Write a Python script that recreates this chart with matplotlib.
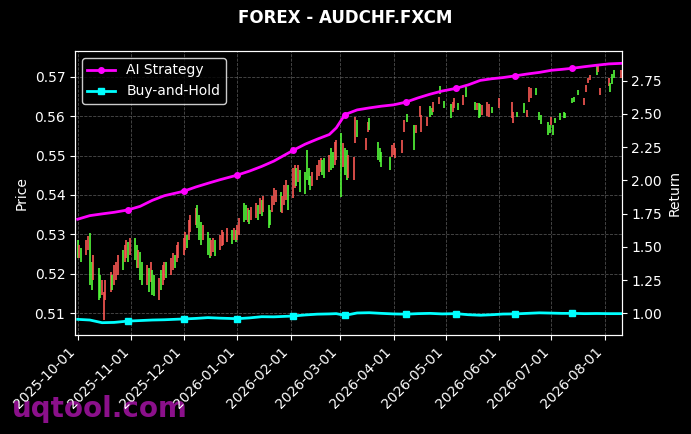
import numpy as np
import pandas as pd
import matplotlib
matplotlib.use("Agg")
import matplotlib.pyplot as plt
import matplotlib.dates as mdates

nan = np.nan

# trading days (Mon-Fri) shown on the chart
start_day = "2025-10-01"
end_day = "2026-08-10"

# daily candle open / close, nan = no candle drawn
opens = [
    # Oct
    0.5286, 0.5240, 0.5265, 0.5247, 0.5260, 0.5303, 0.5230, 0.5184, 0.5214, 0.5197, 0.5146, 0.5082,
    0.5133, 0.5153, 0.5197, 0.5171, 0.5184, 0.5197, 0.5260, 0.5230, 0.5240, 0.5281, 0.5247,
    # Nov
    0.5291, 0.5273, 0.5214, 0.5255, 0.5230, 0.5171, 0.5214, 0.5179, 0.5209, 0.5197, 0.5133, 0.5209,
    0.5171, 0.5184, 0.5230, 0.5197, 0.5209, 0.5247, 0.5230, 0.5240,
    # Dec
    0.5247, 0.5260, 0.5298, 0.5286, 0.5306, 0.5324, 0.5375, 0.5349, 0.5331, 0.5286, 0.5306, 0.5291,
    0.5245, 0.5255, 0.5286, 0.5260, 0.5270, 0.5273, nan, 0.5281, 0.5311, 0.5286, 0.5311,
    # Jan
    0.5286, 0.5298, 0.5380, 0.5375, 0.5331, 0.5362, 0.5336, 0.5342, 0.5375, 0.5352, 0.5387, 0.5357,
    0.5375, 0.5362, 0.5357, 0.5375, 0.5382, 0.5408, 0.5354, 0.5375, 0.5387, 0.5425,
    # Feb
    0.5392, 0.5418, 0.5469, 0.5433, 0.5464, 0.5459, 0.5514, 0.5469, 0.5448, 0.5423, 0.5438, 0.5448,
    0.5459, 0.5489, 0.5494, 0.5459, 0.5520, 0.5509, 0.5476, 0.5489,
    # Mar
    0.5558, 0.5471, 0.5520, 0.5514, 0.5443, 0.5438, 0.5532, 0.5591, nan, nan, 0.5514, 0.5560,
    0.5596, nan, nan, 0.5535, 0.5520, 0.5509, nan, nan, 0.5497, 0.5497,
    # Apr
    0.5502, 0.5494, nan, 0.5507, 0.5560, nan, 0.5606, nan, 0.5578, 0.5558, nan, 0.5598,
    0.5560, 0.5575, nan, 0.5626, 0.5621, 0.5611, 0.5631, 0.5677, nan, 0.5639,
    # May
    nan, 0.5631, 0.5611, 0.5621, nan, 0.5634, 0.5629, nan, 0.5675, nan, nan, 0.5636,
    0.5616, 0.5634, 0.5631, 0.5603, 0.5601, 0.5598, nan, 0.5624, nan,
    # Jun
    0.5621, nan, nan, nan, nan, 0.5596, 0.5583, nan, 0.5611, nan, 0.5634, nan,
    0.5598, 0.5636, 0.5647, 0.5672, nan, 0.5611, 0.5603, nan, 0.5586, 0.5578,
    # Jul
    0.5578, 0.5578, 0.5596, 0.5609, nan, 0.5611, 0.5609, nan, 0.5647, 0.5649, nan, 0.5667,
    nan, 0.5629, 0.5662, 0.5685, 0.5692, nan, 0.5728, 0.5713, 0.5654, nan, nan,
    # Aug
    0.5677, 0.5685, 0.5708, 0.5718, nan, 0.5698,
]
closes = [
    # Oct
    0.5240, 0.5273, 0.5230, 0.5286, 0.5296, 0.5171, 0.5158, 0.5247, 0.5133, 0.5138, 0.5184, 0.5153,
    0.5184, 0.5204, 0.5158, 0.5222, 0.5230, 0.5247, 0.5209, 0.5273, 0.5286, 0.5230, 0.5291,
    # Nov
    0.5235, 0.5214, 0.5260, 0.5184, 0.5171, 0.5222, 0.5153, 0.5230, 0.5146, 0.5143, 0.5189, 0.5158,
    0.5222, 0.5230, 0.5189, 0.5240, 0.5253, 0.5214, 0.5273, 0.5281,
    # Dec
    0.5291, 0.5306, 0.5265, 0.5336, 0.5349, 0.5367, 0.5316, 0.5286, 0.5273, 0.5324, 0.5247, 0.5240,
    0.5286, 0.5291, 0.5245, 0.5298, 0.5311, 0.5306, nan, 0.5316, 0.5275, 0.5316, 0.5281,
    # Jan
    0.5324, 0.5342, 0.5331, 0.5336, 0.5367, 0.5326, 0.5370, 0.5380, 0.5336, 0.5392, 0.5347, 0.5397,
    0.5316, 0.5324, 0.5397, 0.5418, 0.5413, 0.5357, 0.5397, 0.5425, 0.5438, 0.5362,
    # Feb
    0.5469, 0.5476, 0.5423, 0.5476, 0.5408, 0.5403, 0.5438, 0.5425, 0.5413, 0.5459, 0.5476, 0.5489,
    0.5494, 0.5451, 0.5443, 0.5502, 0.5464, 0.5469, 0.5535, 0.5540,
    # Mar
    0.5395, 0.5532, 0.5451, 0.5438, 0.5502, 0.5497, 0.5598, 0.5548, nan, nan, 0.5545, 0.5586,
    0.5565, nan, nan, 0.5489, 0.5484, 0.5471, nan, nan, 0.5464, 0.5527,
    # Apr
    0.5532, 0.5520, nan, 0.5540, 0.5591, nan, 0.5586, nan, 0.5514, 0.5578, nan, 0.5626,
    0.5603, 0.5598, nan, 0.5598, 0.5603, 0.5636, 0.5649, 0.5657, nan, 0.5621,
    # May
    nan, 0.5596, 0.5636, 0.5647, nan, 0.5616, 0.5654, nan, 0.5649, nan, nan, 0.5616,
    0.5634, 0.5596, 0.5598, 0.5629, 0.5636, 0.5631, nan, 0.5609, nan,
    # Jun
    0.5647, nan, nan, nan, nan, 0.5636, 0.5611, nan, 0.5598, nan, 0.5609, nan,
    0.5616, 0.5675, 0.5672, 0.5654, nan, 0.5591, 0.5581, nan, 0.5553, 0.5558,
    # Jul
    0.5598, 0.5553, 0.5583, 0.5591, nan, 0.5596, 0.5596, nan, 0.5634, 0.5636, nan, 0.5654,
    nan, 0.5647, 0.5680, 0.5698, 0.5705, nan, 0.5705, 0.5731, 0.5672, nan, nan,
    # Aug
    0.5698, 0.5662, 0.5682, 0.5698, nan, 0.5718,
]

# strategy curves (read roughly weekly)
line_dates = [
    "2025-10-01", "2025-10-08", "2025-10-15", "2025-10-22", "2025-10-30", "2025-11-06",
    "2025-11-13", "2025-11-20", "2025-12-01", "2025-12-08", "2025-12-15", "2025-12-22",
    "2026-01-01", "2026-01-08", "2026-01-15", "2026-01-22", "2026-02-02", "2026-02-09",
    "2026-02-16", "2026-02-23", "2026-02-27", "2026-03-04", "2026-03-11", "2026-03-18",
    "2026-03-25", "2026-04-01", "2026-04-08", "2026-04-15", "2026-04-22", "2026-04-29",
    "2026-05-07", "2026-05-14", "2026-05-21", "2026-05-28", "2026-06-03", "2026-06-10",
    "2026-06-17", "2026-06-24", "2026-07-01", "2026-07-07", "2026-07-13", "2026-07-20",
    "2026-07-27", "2026-08-03", "2026-08-10",
]
ai_strategy = [
    1.708, 1.735, 1.748, 1.760, 1.778, 1.805, 1.850, 1.885, 1.918, 1.950, 1.978, 2.005,
    2.040, 2.070, 2.105, 2.145, 2.225, 2.272, 2.310, 2.345, 2.395, 2.495, 2.530, 2.545,
    2.558, 2.568, 2.588, 2.620, 2.648, 2.672, 2.692, 2.718, 2.752, 2.765, 2.773, 2.786,
    2.800, 2.812, 2.828, 2.835, 2.843, 2.855, 2.866, 2.876, 2.880,
]
buy_hold = [
    0.955, 0.950, 0.930, 0.932, 0.942, 0.946, 0.950, 0.952, 0.958, 0.962, 0.968, 0.964,
    0.960, 0.966, 0.975, 0.974, 0.980, 0.988, 0.994, 0.996, 0.998, 0.985, 1.003, 1.005,
    1.000, 0.996, 0.994, 0.998, 1.000, 0.996, 0.998, 0.990, 0.986, 0.990, 0.995, 0.996,
    1.000, 1.004, 1.002, 1.000, 1.000, 0.998, 0.999, 0.998, 0.998,
]
marker_dates = [
    "2025-10-30", "2025-12-01", "2026-01-01", "2026-02-02", "2026-03-04",
    "2026-04-08", "2026-05-07", "2026-06-10", "2026-07-13",
]

plt.style.use("dark_background")
fig, ax = plt.subplots(figsize=(6.91, 4.34), dpi=100)
fig.subplots_adjust(left=0.1085, right=0.8997, bottom=0.228, top=0.8825)

dates = pd.bdate_range(start_day, end_day)
o = np.array(opens)
c = np.array(closes)
ok = ~np.isnan(o)
cols = np.where(c > o, "#ff5a55", "#55ff3a")
ax.vlines(dates[ok], o[ok], c[ok], colors=cols[ok], linewidth=1.3, alpha=0.9)

ax.set_ylabel("Price")
ax.set_ylim(0.5044, 0.5766)
ax.set_xlim(pd.Timestamp("2025-09-29 10:30"), pd.Timestamp("2026-08-10 11:00"))
ax.grid(True, linestyle="--", linewidth=0.6, color="gray", alpha=0.6)
ax.xaxis.set_major_locator(mdates.MonthLocator())
ax.xaxis.set_major_formatter(mdates.DateFormatter("%Y-%m-%d"))
plt.setp(ax.get_xticklabels(), rotation=45, ha="right")

ax2 = ax.twinx()
ld = pd.to_datetime(line_dates)
mk = [line_dates.index(d) for d in marker_dates]
ax2.plot(ld, ai_strategy, color="#ff00ff", lw=2, marker="o", ms=4, markevery=mk, label="AI Strategy")
ax2.plot(ld, buy_hold, color="#00ffff", lw=2, marker="s", ms=4, markevery=mk, label="Buy-and-Hold")
ax2.set_ylim(0.837, 2.973)
ax2.set_ylabel("Return")
ax2.legend(loc="upper left", facecolor="black", edgecolor="white")

fig.suptitle("FOREX - AUDCHF.FXCM", fontsize=12, fontweight="bold")
fig.text(0.017, 0.039, "uqtool.com", fontsize=20, fontweight="bold", color="#8b108b",
         va="baseline", zorder=-1)

plt.savefig("out.png")
